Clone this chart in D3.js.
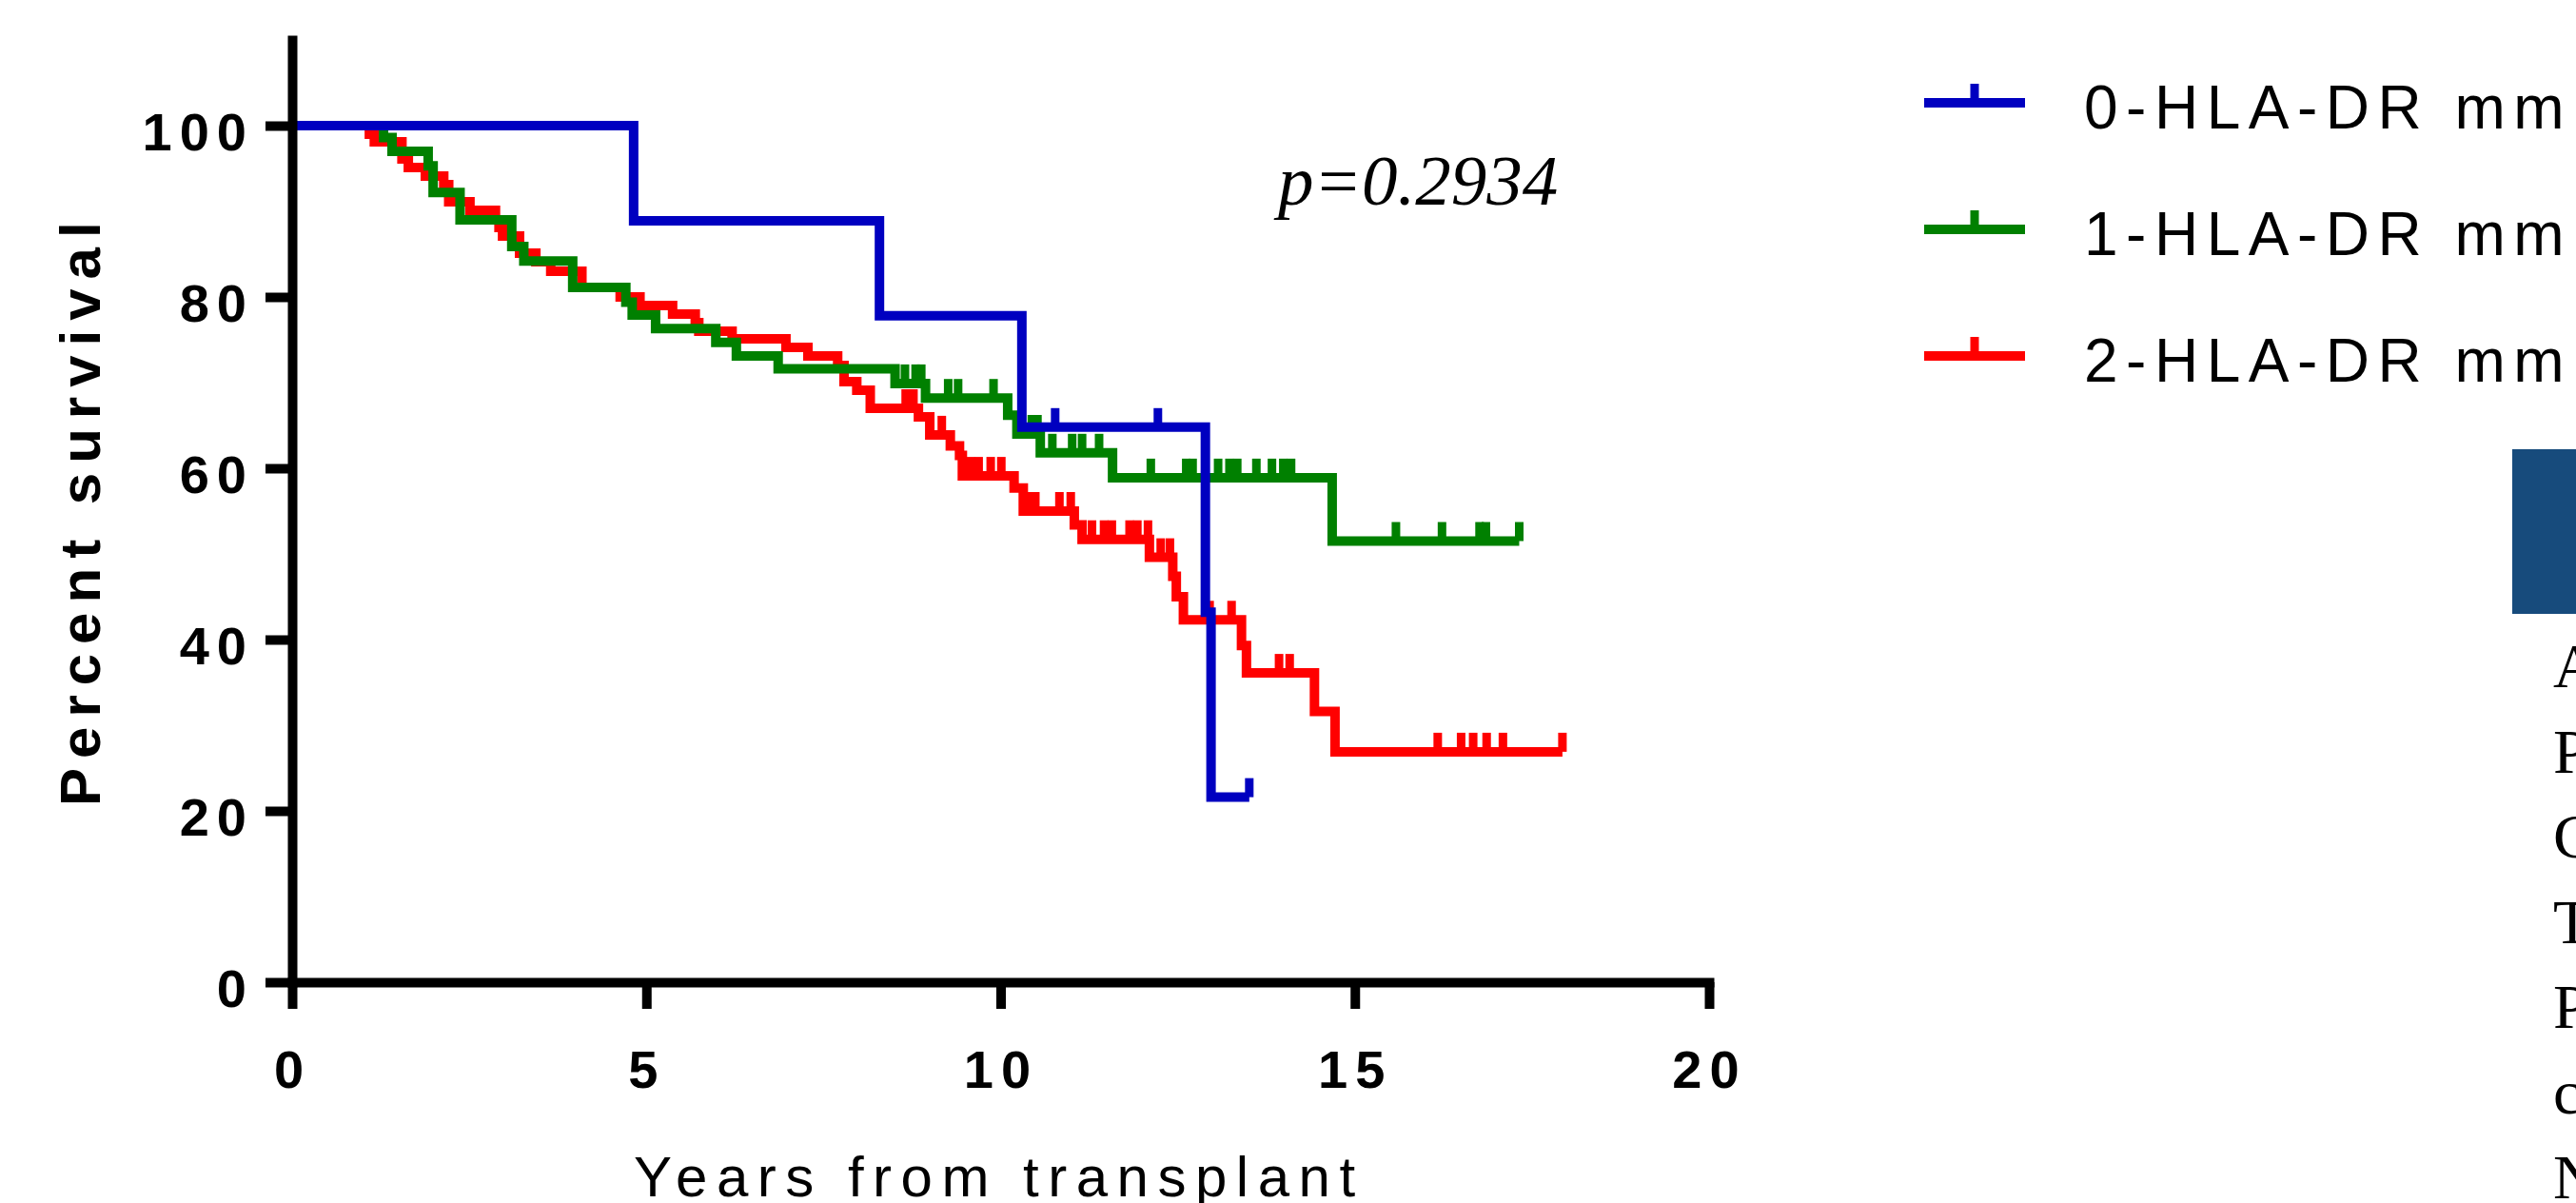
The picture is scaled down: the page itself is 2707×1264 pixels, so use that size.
<!DOCTYPE html>
<html>
<head>
<meta charset="utf-8">
<script src="https://cdn.jsdelivr.net/npm/d3@7"></script>
<style>
  html, body { margin: 0; padding: 0; background: #fff; overflow: hidden; }
  svg { display: block; }
</style>
</head>
<body>
<div id="chart"></div>
<script>
// Kaplan-Meier survival, grouped by number of HLA-DR mismatches.
var seriesNames = ["0-HLA-DR mm", "1-HLA-DR mm", "2-HLA-DR mm"];
var seriesColors = ["#0000c0", "#008000", "#ff0000"];

// 0 mismatches: time of each step (years) and survival (%) after it
var dr0Times = [0, 4.82, 8.29, 10.30, 12.89, 12.97];
var dr0Surv = [100, 88.9, 77.8, 64.8, 43.2, 21.6];
var dr0Censored = [10.77, 12.22, 13.51];
var dr0End = 13.51;

// 1 mismatch
var dr1Times = [0, 1.29, 1.41, 1.92, 1.99, 2.37, 3.10, 3.27, 3.96, 4.71, 4.80, 5.13,
  5.98, 6.27, 6.86, 8.51, 8.94, 10.10, 10.23, 10.56, 11.58, 14.68];
var dr1Surv = [100, 98.6, 97.0, 95.3, 92.2, 89.0, 85.9, 84.2, 81.1, 79.4, 77.9, 76.3,
  74.7, 73.1, 71.6, 69.9, 68.2, 66.2, 64.0, 61.8, 58.9, 51.5];
var dr1Censored = [8.65, 8.80, 8.88, 9.26, 9.40, 9.90, 10.44, 10.52, 10.73, 11.01, 11.15,
  11.39, 12.12, 12.62, 12.71, 13.07, 13.23, 13.34, 13.61, 13.83, 13.99, 14.10, 15.58,
  16.23, 16.76, 16.85, 17.32];
var dr1End = 17.32;

// 2 mismatches
var dr2Times = [0, 1.09, 1.16, 1.55, 1.64, 1.88, 2.14, 2.21, 2.51, 2.87, 2.92, 2.97,
  3.21, 3.44, 3.65, 4.09, 4.63, 4.91, 5.37, 5.69, 5.74, 6.21, 6.97, 7.28, 7.70, 7.79,
  7.97, 8.16, 8.84, 9.00, 9.29, 9.42, 9.46, 10.19, 10.32, 11.04, 11.15, 12.10, 12.43,
  12.48, 12.58, 13.40, 13.47, 14.43, 14.72];
var dr2Surv = [100, 99.0, 98.1, 96.1, 95.1, 94.1, 93.1, 91.1, 90.1, 89.0, 88.1, 87.1,
  85.1, 84.1, 83.0, 81.1, 80.0, 79.0, 78.0, 77.0, 76.0, 75.1, 74.1, 73.1, 72.0, 70.1,
  69.1, 67.0, 66.0, 63.9, 62.6, 61.5, 59.1, 57.7, 55.0, 53.4, 51.7, 49.6, 47.4,
  45.0, 42.3, 39.3, 36.1, 31.6, 26.9];
var dr2Censored = [8.66, 8.77, 9.17, 9.58, 9.69, 9.86, 10.01, 10.42, 10.49, 10.83, 10.99,
  11.29, 11.46, 11.57, 11.82, 11.93, 12.08, 12.26, 12.39, 12.95, 13.26, 13.93, 14.08,
  16.17, 16.50, 16.67, 16.86, 17.09, 17.93];
var dr2End = 17.93;

var xTicks = [0, 5, 10, 15, 20];
var yTicks = [0, 20, 40, 60, 80, 100];
var pValueText = "p=0.2934";

// letters of the neighbouring figure text that is cut off at the right edge
var sideLetters = ["A", "P", "C", "T", "P", "c", "N"];

var series = [
  { times: dr0Times, surv: dr0Surv, censored: dr0Censored, end: dr0End },
  { times: dr1Times, surv: dr1Surv, censored: dr1Censored, end: dr1End },
  { times: dr2Times, surv: dr2Surv, censored: dr2Censored, end: dr2End }
];
series.forEach(function(d, i) { d.name = seriesNames[i]; d.color = seriesColors[i]; });

var W = 2707, H = 1264,
  tickFont = '"Liberation Sans", Arial, Helvetica, sans-serif',
  lineW = 10, censorH = 20;

var svg = d3.select("#chart").append("svg")
  .attr("width", W)
  .attr("height", H)
  .style("background", "#fff");

var x = d3.scaleLinear().domain([0, 20]).range([307, 1796]);
var y = d3.scaleLinear().domain([0, 110]).range([1032, 42]);

// survival level at time t (step function)
function survAt(d, t) {
  var s = d.surv[0];
  d.times.forEach(function(tt, i) { if (tt <= t) s = d.surv[i]; });
  return s;
}

var line = d3.line()
  .x(function(p) { return x(p[0]); })
  .y(function(p) { return y(p[1]); })
  .curve(d3.curveStepAfter);

// Curves, red first so blue sits on top.
series.slice().reverse().forEach(function(d) {
  var pts = d.times.map(function(t, i) { return [t, d.surv[i]]; });
  pts.push([d.end, d.surv[d.surv.length - 1]]);
  var g = svg.append("g");
  g.append("path")
    .attr("d", line(pts))
    .attr("fill", "none")
    .attr("stroke", d.color)
    .attr("stroke-width", lineW)
    .attr("stroke-linejoin", "miter")
    .attr("stroke-linecap", "butt");
  g.selectAll("line.censor")
    .data(d.censored)
    .enter().append("line")
      .attr("class", "censor")
      .attr("x1", function(t) { return x(t); })
      .attr("x2", function(t) { return x(t); })
      .attr("y1", function(t) { return y(survAt(d, t)); })
      .attr("y2", function(t) { return y(survAt(d, t)) - censorH; })
      .attr("stroke", d.color)
      .attr("stroke-width", 9);
});

// Axes.
var xAxis = svg.append("g")
  .attr("transform", "translate(0," + y(0) + ")")
  .call(d3.axisBottom(x).tickValues(xTicks).tickSizeInner(28).tickSizeOuter(0).tickPadding(43));
var yAxis = svg.append("g")
  .attr("transform", "translate(" + x(0) + ",0)")
  .call(d3.axisLeft(y).tickValues(yTicks).tickSizeInner(28).tickSizeOuter(0).tickPadding(12));

[xAxis, yAxis].forEach(function(a) {
  a.select(".domain")
    .attr("stroke", "#000")
    .attr("stroke-width", lineW)
    .attr("stroke-linecap", "square");
  a.selectAll(".tick line")
    .attr("stroke", "#000")
    .attr("stroke-width", lineW);
  a.selectAll(".tick text")
    .attr("fill", "#000")
    .style("font-family", tickFont)
    .style("font-size", "56px")
    .style("font-weight", "bold")
    .style("letter-spacing", "8px");
});
yAxis.selectAll(".tick text").attr("dy", "0.45em");

// Axis titles.
svg.append("text")
  .text("Percent survival")
  .attr("transform", "translate(105,847) rotate(-90)")
  .style("font-family", tickFont)
  .style("font-size", "60px")
  .style("font-weight", "bold")
  .style("letter-spacing", "10px");

svg.append("text")
  .text("Years from transplant")
  .attr("x", 666)
  .attr("y", 1257)
  .style("font-family", tickFont)
  .style("font-size", "60px")
  .style("letter-spacing", "9.5px");

// p value.
svg.append("text")
  .text(pValueText)
  .attr("x", 1343)
  .attr("y", 215)
  .style("font-family", '"Liberation Serif", "Times New Roman", serif')
  .style("font-style", "italic")
  .style("font-size", "75px");

// Legend.
var legend = svg.selectAll(".legend")
  .data(series)
  .enter().append("g")
    .attr("class", "legend")
    .attr("transform", function(d, i) { return "translate(2022," + (108 + i * 133) + ")"; });
legend.append("line")
  .attr("x1", 0).attr("x2", 106)
  .attr("y1", 0).attr("y2", 0)
  .attr("stroke", function(d) { return d.color; })
  .attr("stroke-width", lineW);
legend.append("line")
  .attr("x1", 53).attr("x2", 53)
  .attr("y1", 0).attr("y2", -censorH)
  .attr("stroke", function(d) { return d.color; })
  .attr("stroke-width", 9);
legend.append("text")
  .text(function(d) { return d.name; })
  .attr("x", 168)
  .attr("y", 27)
  .style("font-family", tickFont)
  .style("font-size", "64px")
  .style("letter-spacing", "8.5px");

// Neighbouring panel, cut off at the right edge.
svg.append("rect")
  .attr("x", 2640)
  .attr("y", 472)
  .attr("width", 80)
  .attr("height", 173)
  .attr("fill", "#174b7c");

svg.selectAll(".side-letter")
  .data(sideLetters)
  .enter().append("text")
    .attr("class", "side-letter")
    .text(function(d) { return d; })
    .attr("x", 2683)
    .attr("y", function(d, i) { return 722 + i * 89.5; })
    .style("font-family", '"Liberation Serif", "Times New Roman", serif')
    .style("font-size", "66px");
</script>
</body>
</html>
